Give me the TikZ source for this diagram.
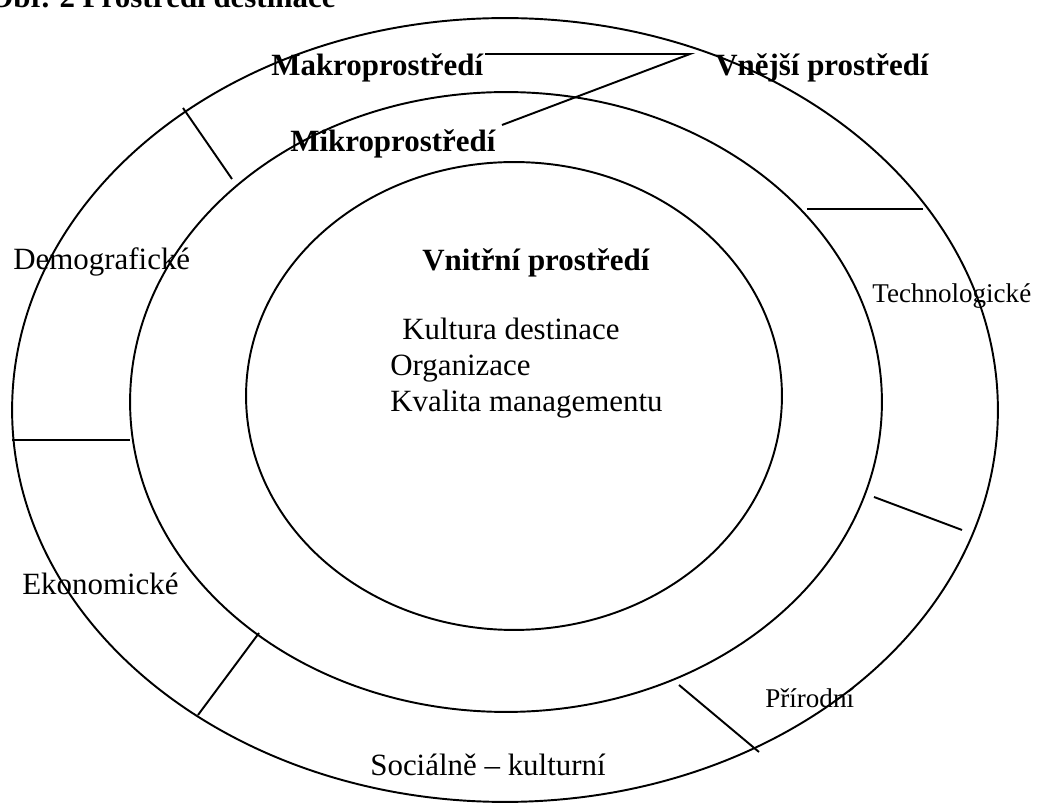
\documentclass[tikz,border=0pt]{standalone}
\usepackage{fontspec}
\setmainfont{Liberation Serif}
\usepackage{tikz}
\usetikzlibrary{positioning,calc}
\tikzset{
    ring/.style={draw,line width=1.1pt},
    divider/.style={draw,line width=1.1pt},
    lbl/.style={inner sep=0pt,anchor=base west,font=\fontsize{17.6}{21}\selectfont},
    lblbf/.style={inner sep=0pt,anchor=base west,font=\fontsize{17.6}{21}\selectfont\bfseries},
    lblsm/.style={inner sep=0pt,anchor=base west,font=\fontsize{15.4}{18}\selectfont},
}
\begin{document}
\begin{tikzpicture}[x=0.02cm,y=-0.02cm]
    \useasboundingbox (0,0) rectangle (1042,803);

    % ---- elipsy ----
    \draw[ring] (505,410) ellipse [x radius=9.86cm, y radius=7.84cm];
    \draw[ring] (506,402) ellipse [x radius=7.52cm, y radius=6.2cm];
    \draw[ring] (514,396) ellipse [x radius=5.36cm, y radius=4.68cm];

    % ---- titulek a nadpisy ----
    \node[lblbf] (title) at (-11,8)   {Obr. 2 Prostředí destinace};
    \node[lblbf] (makro) at (271,76)  {Makroprostředí};
    \node[lblbf] (vnejsi) at (715,76) {Vnější prostředí};
    \node[lblbf] (mikro) at (290,152) {Mikroprostředí};

    % ---- vnitřní prostředí ----
    \node[lblbf] (vnitrni) at (422,271) {Vnitřní prostředí};
    \node[lbl] (kultura) at (402,340)   {Kultura destinace};
    \node[lbl] (organizace) at (390,376) {Organizace};
    \node[lbl] (kvalita) at (390,412)   {Kvalita managementu};

    % ---- faktory makroprostředí ----
    \node[lbl] (demo) at (13,270)    {Demografické};
    \node[lblsm] (techno) at (872,303) {Technologické};
    \node[lbl] (ekono) at (22,595)   {Ekonomické};
    \node[lblsm] (prirod) at (765,708) {Přírodní};
    \node[lbl] (social) at (370,776) {Sociálně – kulturní};

    % ---- odkazové čáry ----
    \coordinate (makroEnd) at (485,54);
    \coordinate (apex) at (690,54);
    \coordinate (mikroEnd) at (502,125);
    \draw[divider] (makroEnd) -- (apex) -- (mikroEnd);

    % ---- dělicí čáry ----
    \draw[divider] (183,108) -- (232,179);
    \draw[divider] (12,440) -- (130,440);
    \draw[divider] (259,633) -- (198,715);
    \draw[divider] (679,685) -- (759,752);
    \draw[divider] (874,497) -- (962,530);
    \draw[divider] (807,209) -- (923,209);

\end{tikzpicture}
\end{document}
